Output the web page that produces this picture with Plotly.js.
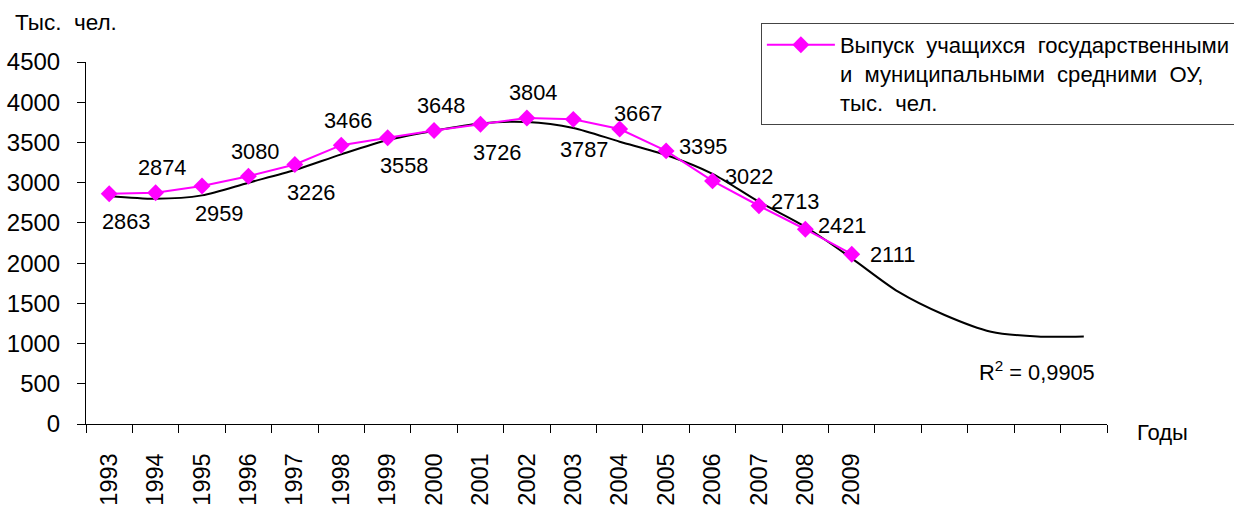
<!DOCTYPE html>
<html>
<head>
<meta charset="utf-8">
<script src="https://cdn.plot.ly/plotly-3.0.1.min.js"></script>
<style>html,body{margin:0;padding:0;background:#fff;}#chart{width:1234px;height:506px;}</style>
</head>
<body>
<div id="chart"></div>
<script>
// ---- data ----
var years = ['1993','1994','1995','1996','1997','1998','1999','2000','2001','2002','2003','2004','2005','2006','2007','2008','2009'];
var graduates = [2863, 2874, 2959, 3080, 3226, 3466, 3558, 3648, 3726, 3804, 3787, 3667, 3395, 3022, 2713, 2421, 2111];
var trendYears = ['1993','1994','1995','1996','1997','1998','1999','2000','2001','2002','2003','2004','2005','2006','2007','2008','2009','2010','2011','2012','2013','2014'];
var trendValues = [2835, 2800, 2842, 3000, 3157, 3352, 3530, 3646, 3737, 3754, 3680, 3509, 3344, 3110, 2763, 2452, 2059, 1645, 1355, 1147, 1088, 1088];
var tickLabels = ['1993','1994','1995','1996','1997','1998','1999','2000','2001','2002','2003','2004','2005','2006','2007','2008','2009','','','','',''];
var labelSide = ['below','above','below','above','below','above','below','above','below','above','belowNear','aboveRight','right','right','right','right','rightLow'];
var seriesName = 'Выпуск\u00a0\u00a0учащихся\u00a0\u00a0государственными<br>и\u00a0\u00a0муниципальными\u00a0\u00a0средними\u00a0\u00a0ОУ,<br>тыс.\u00a0\u00a0чел.';
var r2Text = 'R<sup>2</sup> = 0,9905';
var r2Year = '2013';
var r2Level = 660;

// ---- styles ----
var FONT = 'Liberation Sans, Arial, Helvetica, sans-serif';
var shifts = {
  below: {x: 17, y: -28},
  belowNear: {x: 11, y: -30},
  above: {x: 7, y: 25},
  aboveRight: {x: 19, y: 16},
  right: {x: 37, y: 4},
  rightLow: {x: 41, y: 0}
};
function catIndex(c) { return trendYears.indexOf(c); }

var annotations = graduates.map(function (v, i) {
  var s = shifts[labelSide[i]];
  return {
    x: catIndex(years[i]), y: v, xref: 'x', yref: 'y', text: String(v), showarrow: false,
    xshift: s.x, yshift: s.y, font: {family: FONT, size: 21.8, color: '#000'}
  };
});
annotations.push({x: catIndex(r2Year), y: r2Level, xref: 'x', yref: 'y', text: r2Text, showarrow: false, xshift: 0,
  font: {family: FONT, size: 21.8, color: '#000'}});
annotations.push({xref: 'paper', yref: 'paper', x: -0.0715, y: 1.11, xanchor: 'left', yanchor: 'middle',
  text: 'Тыс.\u00a0\u00a0чел.', showarrow: false, font: {family: FONT, size: 22.5, color: '#000'}});
annotations.push({xref: 'paper', yref: 'paper', x: 1.027, y: 0, xanchor: 'left', yanchor: 'middle', yshift: -8,
  text: 'Годы', showarrow: false, font: {family: FONT, size: 22, color: '#000'}});

var traces = [
  {
    x: trendYears, y: trendValues, type: 'scatter', mode: 'lines',
    line: {color: '#000', width: 2, shape: 'spline', smoothing: 0.8},
    showlegend: false, hoverinfo: 'skip'
  },
  {
    x: years, y: graduates, type: 'scatter', mode: 'lines+markers', name: seriesName,
    line: {color: '#ff00ff', width: 2},
    marker: {symbol: 'diamond', size: 13, color: '#ff00ff'}
  }
];

var layout = {
  width: 1234, height: 506,
  margin: {l: 86, r: 127, t: 62, b: 82, autoexpand: false},
  paper_bgcolor: '#fff', plot_bgcolor: '#fff',
  font: {family: FONT, size: 21.5, color: '#000'},
  showlegend: true,
  legend: {
    x: 0.661, y: 1.108, xanchor: 'left', yanchor: 'top', valign: 'top',
    bordercolor: '#444', borderwidth: 1, bgcolor: '#fff',
    font: {family: FONT, size: 22.1, color: '#000'},
    itemwidth: 68, tracegroupgap: 0
  },
  xaxis: {
    type: 'category', categoryorder: 'array', categoryarray: trendYears,
    range: [-0.5, 21.5], tickmode: 'array', tickvals: trendYears, ticktext: tickLabels,
    tickson: 'boundaries', ticks: 'outside', ticklen: 8, tickcolor: '#000', tickwidth: 1,
    tickangle: -90, showline: true, linecolor: '#000', linewidth: 1, showgrid: false,
    zeroline: false, fixedrange: true, ticklabelstandoff: 19,
    tickfont: {family: FONT, size: 23.5, color: '#000'}
  },
  yaxis: {
    range: [0, 4500], dtick: 500, tick0: 0, ticks: 'outside', ticklen: 8, tickcolor: '#000',
    showline: true, linecolor: '#000', linewidth: 1, showgrid: false, zeroline: false,
    ticklabelstandoff: 12, tickfont: {family: FONT, size: 24, color: '#000'}, fixedrange: true
  },
  annotations: annotations
};

Plotly.newPlot('chart', traces, layout, {staticPlot: true, displayModeBar: false});
</script>
</body>
</html>
